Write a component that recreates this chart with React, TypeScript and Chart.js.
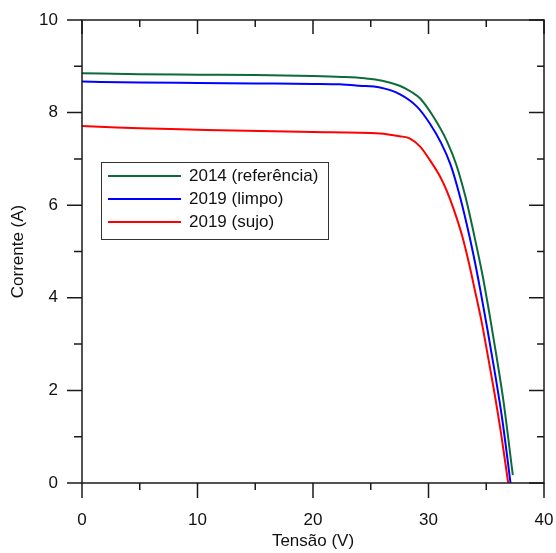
import React, { useEffect, useRef } from "react";
import { Chart, registerables } from "chart.js";

Chart.register(...registerables);

const seriesLabels = ["2014 (referência)", "2019 (limpo)", "2019 (sujo)"];
const seriesColors = ["#0b6b3a", "#0000ff", "#ff0000"];

const v2014 = [0, 5, 10, 15, 20, 22.5, 24.5, 26, 27.5, 28.5, 29.3, 30.4, 31.6, 32.4, 33.2, 34.0, 34.7, 35.3, 35.9, 36.5, 37.3];
const i2014 = [8.85, 8.83, 8.82, 8.81, 8.79, 8.77, 8.74, 8.69, 8.58, 8.45, 8.3, 7.92, 7.38, 6.88, 6.18, 5.3, 4.46, 3.62, 2.72, 1.75, 0.17];

const v2019l = [0, 5, 10, 15, 20, 22.3, 24, 25.8, 27.5, 29.0, 30.1, 31.1, 31.9, 32.6, 33.3, 33.9, 34.5, 35.1, 35.7, 36.4, 37.1];
const i2019l = [8.67, 8.65, 8.64, 8.63, 8.62, 8.61, 8.58, 8.54, 8.4, 8.13, 7.77, 7.34, 6.88, 6.3, 5.6, 4.92, 4.15, 3.32, 2.45, 1.35, 0.0];

const v2019s = [0, 2, 5, 10, 15.4, 20, 25.8, 27.5, 28.4, 29.3, 30.1, 31.0, 31.6, 32.2, 32.9, 33.5, 34.0, 34.6, 35.1, 35.7, 36.3, 36.9];
const i2019s = [7.71, 7.69, 7.66, 7.63, 7.6, 7.58, 7.55, 7.49, 7.44, 7.26, 6.98, 6.62, 6.3, 5.9, 5.35, 4.75, 4.18, 3.48, 2.8, 1.96, 1.04, 0.0];

const xMajor = [0, 10, 20, 30, 40];
const xMinor = [5, 15, 25, 35];
const yMajor = [0, 2, 4, 6, 8, 10];
const yMinor = [1, 3, 5, 7, 9];

const FONT = "'Liberation Sans', Arial, sans-serif";

function pts(xs: number[], ys: number[]) {
  return xs.map((x, k) => ({ x, y: ys[k] }));
}

const framePlugin = {
  id: "frameTicks",
  afterDraw(chart: any) {
    const { ctx, chartArea: a, scales } = chart;
    const xs = scales.x;
    const ys = scales.y;
    ctx.save();
    ctx.strokeStyle = "#1a1a1a";
    ctx.lineWidth = 1.5;
    ctx.strokeRect(a.left, a.top, a.right - a.left, a.bottom - a.top);
    ctx.beginPath();
    const xt = (vals: number[], outLen: number, inLen: number) => {
      vals.forEach((v) => {
        const px = xs.getPixelForValue(v);
        ctx.moveTo(px, a.bottom);
        ctx.lineTo(px, a.bottom + outLen);
        ctx.moveTo(px, a.top);
        ctx.lineTo(px, a.top + inLen);
      });
    };
    const yt = (vals: number[], outLen: number, inLen: number) => {
      vals.forEach((v) => {
        const py = ys.getPixelForValue(v);
        ctx.moveTo(a.left, py);
        ctx.lineTo(a.left - outLen, py);
        ctx.moveTo(a.right, py);
        ctx.lineTo(a.right - inLen, py);
      });
    };
    xt(xMajor, 15, 14);
    xt(xMinor, 7, 7);
    yt(yMajor, 15, 15);
    yt(yMinor, 8, 7);
    ctx.stroke();

    // legend
    const lx = 101, ly = 162, lw = 227, lh = 77;
    ctx.fillStyle = "#ffffff";
    ctx.fillRect(lx, ly, lw, lh);
    ctx.lineWidth = 1;
    ctx.strokeStyle = "#333333";
    ctx.strokeRect(lx + 0.5, ly + 0.5, lw, lh);
    ctx.font = `17px ${FONT}`;
    ctx.textBaseline = "middle";
    ctx.textAlign = "left";
    seriesLabels.forEach((lab, k) => {
      const y = 176 + k * 23;
      ctx.strokeStyle = seriesColors[k];
      ctx.lineWidth = 2;
      ctx.beginPath();
      ctx.moveTo(108, y);
      ctx.lineTo(181, y);
      ctx.stroke();
      ctx.fillStyle = "#111111";
      ctx.fillText(lab, 189, y);
    });
    ctx.restore();
  },
};

const zeroPad = (s: any) => {
  s.paddingTop = 0;
  s.paddingBottom = 0;
  s.paddingLeft = 0;
  s.paddingRight = 0;
};

export default function App() {
  const ref = useRef<HTMLCanvasElement | null>(null);
  useEffect(() => {
    if (!ref.current) return;
    const series = [pts(v2014, i2014), pts(v2019l, i2019l), pts(v2019s, i2019s)];
    const chart = new Chart(ref.current, {
      type: "line",
      data: {
        datasets: series.map((d, k) => ({
          label: seriesLabels[k],
          data: d,
          borderColor: seriesColors[k],
          borderWidth: 2,
          pointRadius: 0,
          fill: false,
          cubicInterpolationMode: "monotone" as const,
        })),
      },
      options: {
        animation: false,
        responsive: false,
        maintainAspectRatio: false,
        layout: { padding: { top: 20, right: 12, left: 0, bottom: 0 } },
        plugins: { legend: { display: false }, tooltip: { enabled: false } },
        scales: {
          x: {
            type: "linear",
            min: 0,
            max: 40,
            afterFit: (s: any) => { s.height = 70; zeroPad(s); },
            afterBuildTicks: (s: any) => { s.ticks = xMajor.map((v) => ({ value: v })); },
            grid: { display: false, drawTicks: false },
            border: { display: false },
            ticks: { padding: 27, color: "#111", font: { family: FONT, size: 17 }, maxRotation: 0 },
            title: { display: true, text: "Tensão (V)", color: "#111", font: { family: FONT, size: 17 }, padding: { top: 0, bottom: 1 } },
          },
          y: {
            type: "linear",
            min: 0,
            max: 10,
            afterFit: (s: any) => { s.width = 82; zeroPad(s); },
            afterBuildTicks: (s: any) => { s.ticks = yMajor.map((v) => ({ value: v })); },
            grid: { display: false, drawTicks: false },
            border: { display: false },
            ticks: { padding: 24, color: "#111", font: { family: FONT, size: 17 } },
            title: { display: true, text: "Corrente (A)", color: "#111", font: { family: FONT, size: 17 }, padding: { top: 8, bottom: 0 } },
          },
        },
      },
      plugins: [framePlugin],
    });
    return () => chart.destroy();
  }, []);
  return (
    <div style={{ position: "absolute", left: 0, top: 0, width: 556, height: 553 }}>
      <canvas ref={ref} width={556} height={553} style={{ display: "block" }} />
    </div>
  );
}
